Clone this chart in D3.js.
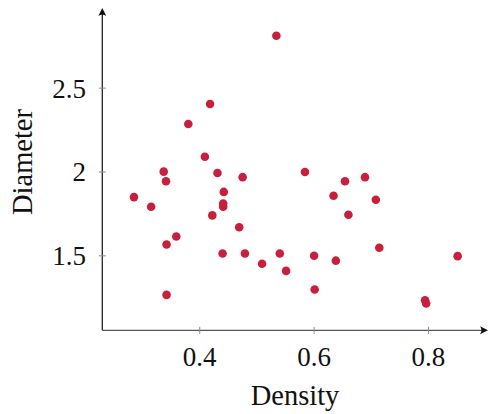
<!DOCTYPE html>
<html>
<head>
<meta charset="utf-8">
<script src="https://cdn.jsdelivr.net/npm/d3@7"></script>
<style>
  html, body { margin: 0; padding: 0; background: #fff; }
  svg text { font-family: "Liberation Serif", "DejaVu Serif", serif; fill: #111; }
</style>
</head>
<body>
<svg id="chart" width="488" height="414"></svg>
<script>
const density = [0.534, 0.418, 0.380, 0.409, 0.337, 0.431, 0.584, 0.475, 0.341, 0.654,
  0.689, 0.442, 0.285, 0.634, 0.708, 0.315, 0.441, 0.441, 0.422, 0.660,
  0.469, 0.714, 0.359, 0.342, 0.440, 0.479, 0.540, 0.600, 0.851, 0.509,
  0.638, 0.551, 0.342, 0.601, 0.794, 0.796];
const diameter = [2.812, 2.405, 2.286, 2.091, 2.002, 1.994, 2.000, 1.969, 1.945, 1.945,
  1.969, 1.881, 1.850, 1.858, 1.834, 1.793, 1.812, 1.793, 1.741, 1.745,
  1.670, 1.548, 1.615, 1.567, 1.514, 1.514, 1.514, 1.500, 1.498, 1.453,
  1.471, 1.410, 1.267, 1.299, 1.235, 1.216];
const xTicks = [0.4, 0.6, 0.8];
const xTickLabels = ["0.4", "0.6", "0.8"];
const yTicks = [1.5, 2, 2.5];
const yTickLabels = ["1.5", "2", "2.5"];
const xLabel = "Density";
const yLabel = "Diameter";

const svg = d3.select("#chart");
const x = d3.scaleLinear().domain([0.2296, 0.9006]).range([102.3, 486]);
const y = d3.scaleLinear().domain([1.0557, 2.966]).range([330.3, 10]);

const axisColor = "#222";
const tickColor = "#8a8a8a";
const fontSize = 27;
const labelSize = 28.5;

const x0 = x.range()[0], x1 = x.range()[1];
const y0 = y.range()[0], y1 = y.range()[1];
// x axis line + arrow
svg.append("line").attr("x1", x0).attr("x2", x1 - 3).attr("y1", y0).attr("y2", y0)
  .attr("stroke", "#555").attr("stroke-width", 1.3);
svg.append("path")
  .attr("d", `M${x1 + 2},${y0} L${x1 - 6},${y0 - 4} Q${x1 - 3},${y0} ${x1 - 6},${y0 + 4} Z`)
  .attr("fill", "#111");
// y axis line + arrow
svg.append("line").attr("x1", x0).attr("x2", x0).attr("y1", y0).attr("y2", y1 + 3)
  .attr("stroke", axisColor).attr("stroke-width", 1.3);
svg.append("path")
  .attr("d", `M${x0},${y1 - 2} L${x0 - 4},${y1 + 6} Q${x0},${y1 + 3} ${x0 + 4},${y1 + 6} Z`)
  .attr("fill", "#111");

// x ticks
const gx = svg.append("g");
gx.selectAll("line").data(xTicks).join("line")
  .attr("x1", d => x(d)).attr("x2", d => x(d))
  .attr("y1", y0 - 3.5).attr("y2", y0 + 3.5)
  .attr("stroke", tickColor).attr("stroke-width", 1);
gx.selectAll("text").data(xTicks).join("text")
  .attr("x", d => x(d)).attr("y", 366)
  .attr("text-anchor", "middle").attr("font-size", fontSize)
  .text((d, i) => xTickLabels[i]);

// y ticks
const gy = svg.append("g");
gy.selectAll("line").data(yTicks).join("line")
  .attr("x1", x0 - 3.5).attr("x2", x0 + 3.5)
  .attr("y1", d => y(d)).attr("y2", d => y(d))
  .attr("stroke", tickColor).attr("stroke-width", 1);
gy.selectAll("text").data(yTicks).join("text")
  .attr("x", 86).attr("y", d => y(d) + 9.5)
  .attr("text-anchor", "end").attr("font-size", fontSize)
  .text((d, i) => yTickLabels[i]);

// axis labels
svg.append("text").attr("x", 295).attr("y", 405)
  .attr("text-anchor", "middle").attr("font-size", labelSize).text(xLabel);
svg.append("text")
  .attr("transform", `translate(32, 162) rotate(-90)`)
  .attr("text-anchor", "middle").attr("font-size", labelSize).text(yLabel);

// points
const data = density.map((d, i) => ({ x: d, y: diameter[i] }));
svg.append("g").selectAll("circle").data(data).join("circle")
  .attr("cx", d => x(d.x)).attr("cy", d => y(d.y)).attr("r", 4.3)
  .attr("fill", "#c8203c");
</script>
</body>
</html>
